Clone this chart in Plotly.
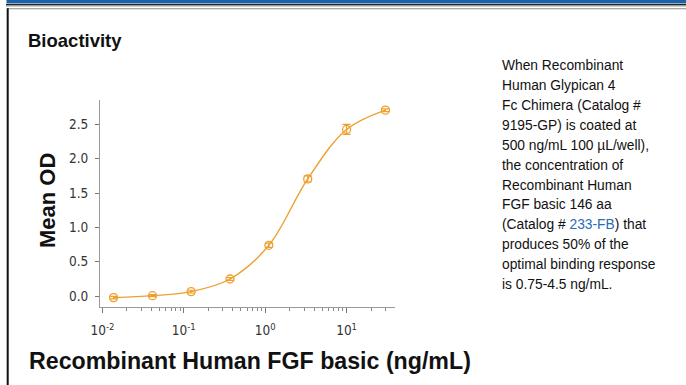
import plotly.graph_objects as go

# ---- data ----
conc_ng_ml = [0.0137, 0.0412, 0.123, 0.370, 1.11, 3.33, 10.0, 30.0]
mean_od = [-0.023, 0.005, 0.064, 0.248, 0.739, 1.706, 2.426, 2.707]
od_err = [0.018, 0.015, 0.02, 0.02, 0.03, 0.045, 0.073, 0.02]
y_tick_vals = [0.0, 0.5, 1.0, 1.5, 2.0, 2.5]
x_tick_vals = [0.01, 0.1, 1, 10]
x_tick_text = ["10<sup>-2</sup>", "10<sup>-1</sup>", "10<sup>0</sup>", "10<sup>1</sup>"]

note_lines = [
    "When Recombinant",
    "Human Glypican 4",
    "Fc Chimera (Catalog #",
    "9195-GP) is coated at",
    "500 ng/mL 100 µL/well),",
    "the concentration of",
    "Recombinant Human",
    "FGF basic 146 aa",
    "(Catalog # <span style='color:#2a6db5'>233-FB</span>) that",
    "produces 50% of the",
    "optimal binding response",
    "is 0.75-4.5 ng/mL.",
]

W, H = 686, 385
L, R, T, B = 100, 291, 100, 78
PW, PH = W - L - R, H - T - B


def px(x):
    return (x - L) / PW


def py(y):
    return (H - B - y) / PH


ORANGE = "#EDA02F"
TICKFONT = dict(family="DejaVu Sans Condensed, Liberation Sans Narrow, sans-serif",
                size=13.5, color="#333333")

fig = go.Figure()
fig.add_trace(go.Scatter(
    x=conc_ng_ml, y=mean_od, mode="lines",
    line=dict(color=ORANGE, width=1.4, shape="spline", smoothing=1.0),
    hoverinfo="skip", showlegend=False,
))
fig.add_trace(go.Scatter(
    x=conc_ng_ml, y=mean_od, mode="markers",
    marker=dict(symbol="circle-open", size=8, color=ORANGE, line=dict(width=1.3, color=ORANGE)),
    error_y=dict(type="data", array=od_err, visible=True, color=ORANGE, thickness=1.2, width=4),
    showlegend=False,
))

fig.update_xaxes(
    type="log", range=[-2.03, 1.595],
    tickvals=x_tick_vals, ticktext=x_tick_text,
    showline=True, linecolor="#9a9a9a", linewidth=1,
    ticks="outside", ticklen=5, tickcolor="#777777", tickwidth=1,
    minor=dict(ticks="outside", ticklen=3, tickcolor="#888888", dtick="D1", showgrid=False),
    showgrid=False, zeroline=False,
    tickfont=TICKFONT, ticklabelstandoff=6,
)
fig.update_yaxes(
    range=[-0.16, 2.855],
    tickvals=y_tick_vals, tickformat=".1f",
    showline=True, linecolor="#9a9a9a", linewidth=1,
    ticks="outside", ticklen=4, tickcolor="#777777", tickwidth=1,
    showgrid=False, zeroline=False,
    tickfont=TICKFONT, ticklabelstandoff=4,
)

annotations = [
    dict(text="<b>Bioactivity</b>", x=px(26), y=py(40), xanchor="left", yanchor="middle",
         font=dict(size=18.5, color="#111111")),
    dict(text="<b>Mean OD</b>", x=px(47), y=py(201), xanchor="center", yanchor="middle",
         textangle=-90, font=dict(size=22, color="#111111")),
    dict(text="<b>Recombinant Human FGF basic (ng/mL)</b>", x=px(27), y=py(361),
         xanchor="left", yanchor="middle", font=dict(size=23.2, color="#111111")),
]
for i, line in enumerate(note_lines):
    annotations.append(dict(text=line, x=px(500), y=py(66 + i * 19.85), xanchor="left",
                            yanchor="middle", font=dict(size=13.8, color="#111111")))
for a in annotations:
    a.update(xref="paper", yref="paper", showarrow=False,
             font=dict(family="Liberation Sans, Arial, sans-serif", **a["font"]))

shapes = [
    dict(type="rect", x0=px(6.5), x1=px(W), y0=py(0), y1=py(3.4), fillcolor="#1a62a5", line_width=0),
    dict(type="rect", x0=px(6), x1=px(W), y0=py(4), y1=py(5), fillcolor="#222222", line_width=0),
    dict(type="rect", x0=px(6), x1=px(W), y0=py(5), y1=py(6.5), fillcolor="#9a9a9a", line_width=0),
    dict(type="rect", x0=px(7), x1=px(W), y0=py(8.3), y1=py(9.3), fillcolor="#8a8a8a", line_width=0),
    dict(type="rect", x0=px(6.7), x1=px(8.7), y0=py(8.3), y1=py(H), fillcolor="#111111", line_width=0),
]
for s in shapes:
    s.update(xref="paper", yref="paper", layer="above")

fig.update_layout(
    width=W, height=H, autosize=False,
    margin=dict(l=L, r=R, t=T, b=B, pad=0),
    paper_bgcolor="white", plot_bgcolor="white",
    annotations=annotations, shapes=shapes,
    font=dict(family="Liberation Sans, Arial, sans-serif"),
)

fig.write_html("out.html", config={"displayModeBar": False},
               post_script="document.body.style.margin='0';document.body.style.overflow='hidden';")
